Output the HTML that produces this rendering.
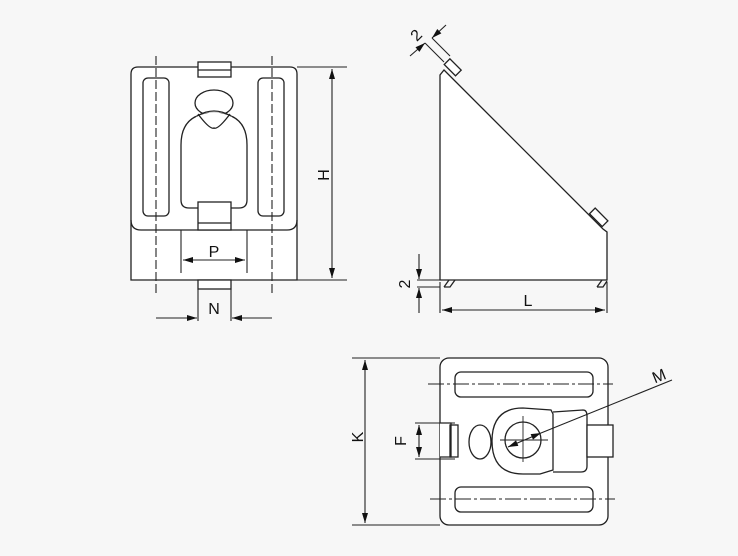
<!DOCTYPE html>
<html><head><style>
html,body{margin:0;padding:0;background:#f7f7f7;}
svg{display:block;}
text{font-family:"Liberation Sans",sans-serif;font-size:16px;fill:#111;}
</style></head><body>
<svg width="738" height="556" viewBox="0 0 738 556" xmlns="http://www.w3.org/2000/svg">
<defs>
<marker id="a" viewBox="0 0 10 6" refX="10" refY="3" markerWidth="14" markerHeight="6" orient="auto-start-reverse" markerUnits="userSpaceOnUse"><path d="M0,0 L10,3 L0,6 z" fill="#111"/></marker>
</defs>
<g fill="none" stroke="#222" stroke-width="1.3">
<!-- FRONT VIEW -->
<path d="M131,230 L131,74 Q131,67 138,67 L290,67 Q297,67 297,74 L297,280 L131,280 Z" fill="#fff"/>
<path d="M131,220 Q131,230 141,230 L287,230 Q297,230 297,220"/>
<rect x="198" y="62" width="33" height="15" fill="#fff"/>
<line x1="198" y1="70" x2="231" y2="70"/>
<rect x="143" y="78" width="26" height="138" rx="5"/>
<rect x="258" y="78" width="26" height="138" rx="5"/>
<ellipse cx="214" cy="103" rx="19" ry="13" fill="#fff"/>
<path d="M181,200 L181,145 Q181,113 214,113 Q247,113 247,145 L247,200 Q247,208 239,208 L189,208 Q181,208 181,200 Z" fill="#fff"/>
<path d="M196,117 Q214,108 232,117 Q222,128 214,128 Q206,128 196,117 Z" fill="#fff" stroke="none"/>
<path d="M197,116 Q214,106 231,116"/>
<path d="M198,114 Q210,130 214,128 Q218,130 230,114"/>
<rect x="198" y="202" width="33" height="28" fill="#fff"/>
<line x1="198" y1="223" x2="231" y2="223"/>
<rect x="198" y="280" width="33" height="9" fill="#fff"/>
<g stroke-dasharray="9,3" stroke-width="1.1">
<line x1="156" y1="56" x2="156" y2="293"/>
<line x1="272" y1="56" x2="272" y2="293"/>
</g>
<g stroke-width="1.1">
<line x1="181" y1="230" x2="181" y2="273"/>
<line x1="247" y1="230" x2="247" y2="273"/>
<line x1="183" y1="260" x2="245" y2="260" marker-start="url(#a)" marker-end="url(#a)"/>
<line x1="297" y1="67" x2="347" y2="67"/>
<line x1="297" y1="280" x2="347" y2="280"/>
<line x1="332" y1="69" x2="332" y2="278" marker-start="url(#a)" marker-end="url(#a)"/>
<line x1="198" y1="289" x2="198" y2="321"/>
<line x1="231" y1="289" x2="231" y2="321"/>
<line x1="156" y1="318" x2="197" y2="318" marker-end="url(#a)"/>
<line x1="272" y1="318" x2="232" y2="318" marker-end="url(#a)"/>
</g>
<!-- SIDE VIEW -->
<path d="M440,280 L440,75 L444,70 L603,229 L607,232 L607,280 Z" fill="#fff"/>
<g transform="translate(452,68) rotate(45)"><rect x="-8" y="-5" width="16" height="8" fill="#fff"/></g>
<g transform="translate(598,218) rotate(45)"><rect x="-9" y="-5" width="18" height="8" fill="#fff"/></g>
<path d="M444,287 L449,280 M444,287 L450,287 L455,280"/>
<path d="M597,287 L602,280 M597,287 L603,287 L607,281"/>
<g stroke-width="1.1">
<line x1="444" y1="62" x2="425" y2="43"/>
<line x1="450" y1="56" x2="432" y2="38"/>
<line x1="410" y1="56" x2="425" y2="43" marker-end="url(#a)"/>
<line x1="446" y1="25" x2="432" y2="38" marker-end="url(#a)"/>
<line x1="417" y1="280" x2="440" y2="280"/>
<line x1="417" y1="287" x2="440" y2="287"/>
<line x1="419" y1="254" x2="419" y2="279" marker-end="url(#a)"/>
<line x1="419" y1="313" x2="419" y2="288" marker-end="url(#a)"/>
<line x1="440" y1="282" x2="440" y2="313"/>
<line x1="607" y1="282" x2="607" y2="313"/>
<line x1="442" y1="310" x2="605" y2="310" marker-start="url(#a)" marker-end="url(#a)"/>
</g>
<!-- TOP VIEW -->
<rect x="440" y="358" width="168" height="167" rx="9" fill="#fff"/>
<rect x="455" y="372" width="138" height="25" rx="6"/>
<rect x="455" y="487" width="138" height="25" rx="6"/>
<path d="M440,423 L451,423 L451,457 L440,457" fill="#fff"/>
<rect x="450" y="425" width="8" height="32"/>
<ellipse cx="480" cy="442" rx="11" ry="17"/>
<path d="M492,441 Q492,408 523,408 L551,410 L553,414 L553,470 L540,474 L523,474 Q492,474 492,441 Z" fill="#fff"/>
<path d="M553,412 L583,410 Q587,410 587,416 L587,425 L587,457 L587,466 Q587,472 581,472 L553,472"/>
<rect x="587" y="425" width="26" height="32" fill="#fff"/>
<circle cx="523" cy="440" r="18"/>
<g stroke-dasharray="16,3,3,3" stroke-width="1.1">
<line x1="428" y1="384" x2="613" y2="384"/>
<line x1="430" y1="499" x2="615" y2="499"/>
</g>
<g stroke-width="0.9">
<line x1="500" y1="440" x2="548" y2="440"/>
<line x1="523" y1="416" x2="523" y2="462"/>
</g>
<g stroke-width="1.1">
<line x1="352" y1="358" x2="440" y2="358"/>
<line x1="352" y1="525" x2="440" y2="525"/>
<line x1="365" y1="360" x2="365" y2="523" marker-start="url(#a)" marker-end="url(#a)"/>
<line x1="415" y1="423" x2="455" y2="423"/>
<line x1="415" y1="459" x2="455" y2="459"/>
<line x1="419" y1="425" x2="419" y2="457" marker-start="url(#a)" marker-end="url(#a)"/>
<line x1="672" y1="380" x2="541" y2="433"/>
<line x1="541" y1="433" x2="508" y2="447" marker-start="url(#a)" marker-end="url(#a)"/>
</g>
</g>
<text x="214" y="257" text-anchor="middle">P</text>
<text x="214" y="314" text-anchor="middle">N</text>
<text transform="translate(329,175) rotate(-90)" text-anchor="middle">H</text>
<text x="528" y="306" text-anchor="middle">L</text>
<text transform="translate(410,284) rotate(-90)" text-anchor="middle">2</text>
<text transform="translate(420,39) rotate(-45)" text-anchor="middle">2</text>
<text transform="translate(363,437) rotate(-90)" text-anchor="middle">K</text>
<text transform="translate(406,441) rotate(-90)" text-anchor="middle">F</text>
<text transform="translate(661,381) rotate(-22)" text-anchor="middle">M</text>
</svg>
</body></html>
